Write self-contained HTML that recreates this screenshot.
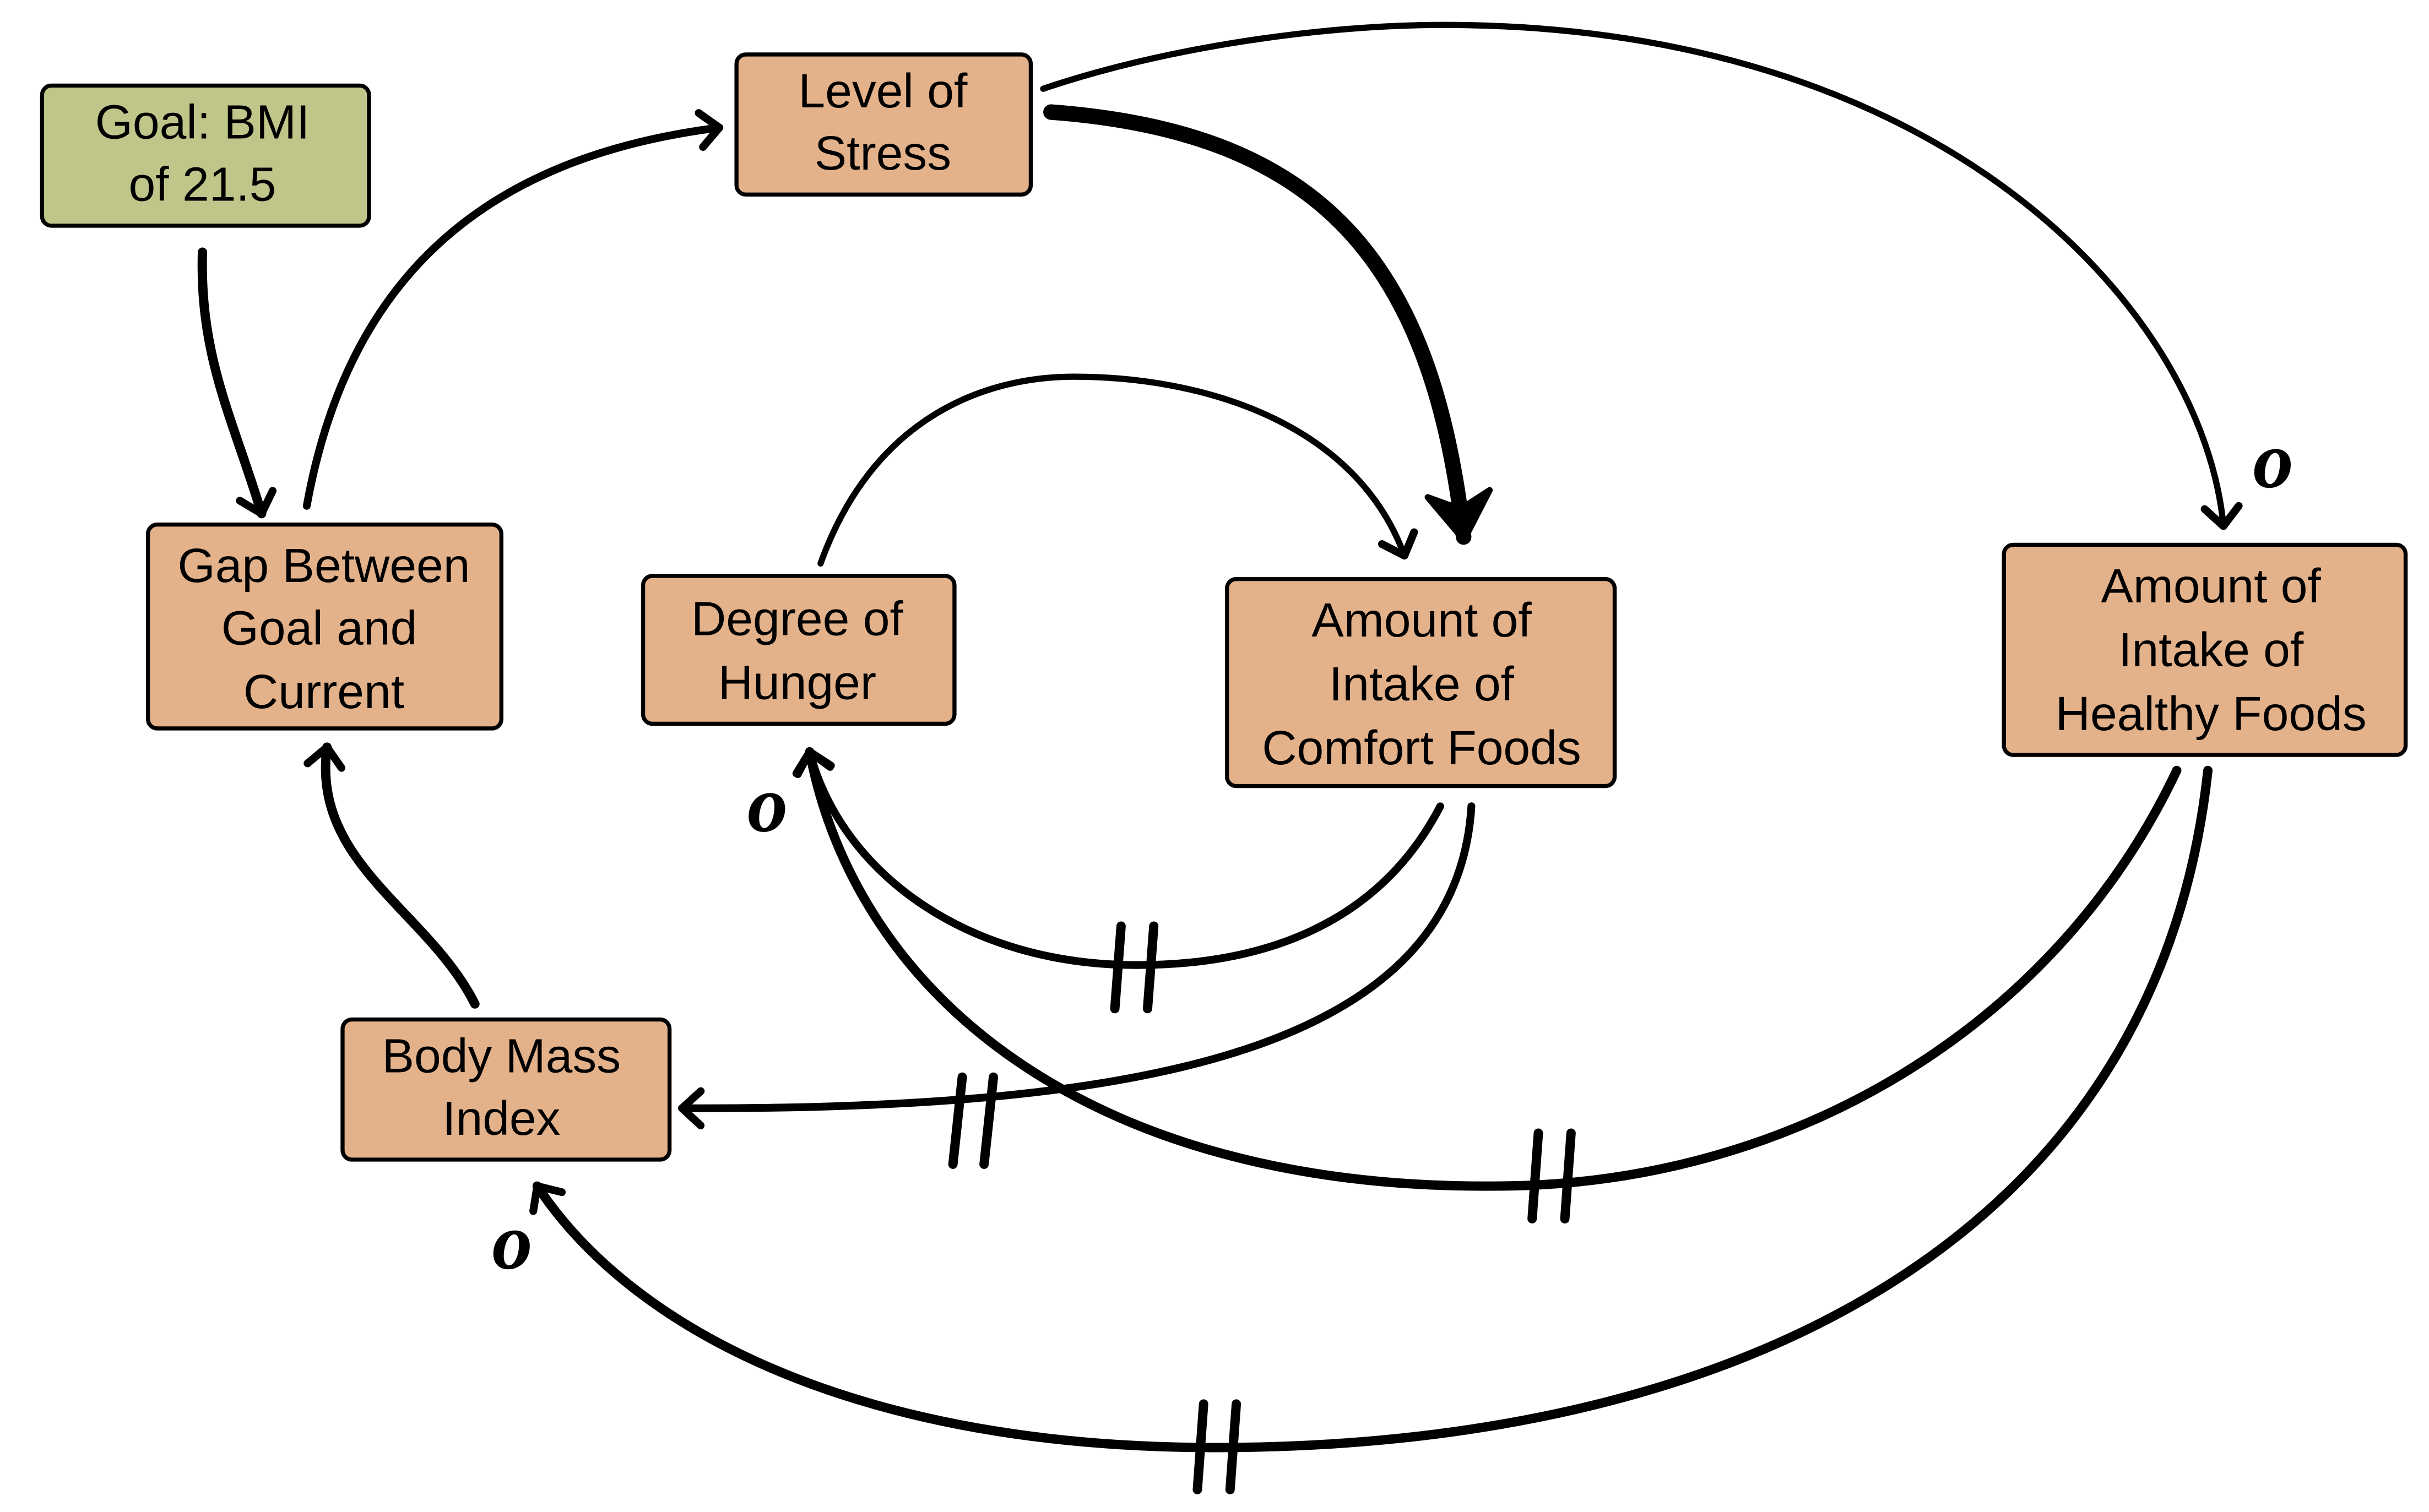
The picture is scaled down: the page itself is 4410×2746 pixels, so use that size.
<!DOCTYPE html>
<html><head><meta charset="utf-8"><style>
html,body{margin:0;padding:0;background:#fff}
svg{display:block}
text{font-family:"Liberation Sans",sans-serif;font-size:31px;fill:#000;text-anchor:middle}
.o{font-family:"Liberation Serif",serif;font-style:italic;font-weight:bold;font-size:52px}
.box{stroke:#000;stroke-width:2.6}
.c{fill:none;stroke:#000;stroke-linecap:round}
</style></head><body>
<svg width="4410" height="2746" viewBox="0 0 1560 971.4" xmlns="http://www.w3.org/2000/svg">
<defs>
<marker id="a" markerUnits="userSpaceOnUse" markerWidth="40" markerHeight="40" refX="20" refY="20" orient="auto" viewBox="0 0 40 40">
<path d="M8,9 L20,20 L8,31" fill="none" stroke="#000" stroke-width="5" stroke-linecap="round" stroke-linejoin="round"/>
</marker>
<marker id="b" markerUnits="userSpaceOnUse" markerWidth="60" markerHeight="60" refX="40" refY="30" orient="auto" viewBox="0 0 60 60">
<path d="M12,10 L42,30 L12,50 L22,30 Z" fill="#000" stroke="#000" stroke-width="4" stroke-linejoin="round"/>
</marker>
</defs>

<rect class="box" x="27" y="55" width="210" height="90" rx="6" fill="#c0c58a"/>
<rect class="box" x="473" y="35" width="189" height="90" rx="6" fill="#e3b28b"/>
<rect class="box" x="95" y="337" width="227" height="131" rx="6" fill="#e3b28b"/>
<rect class="box" x="413" y="370" width="200" height="95" rx="6" fill="#e3b28b"/>
<rect class="box" x="788" y="372" width="249" height="133" rx="6" fill="#e3b28b"/>
<rect class="box" x="1287" y="350" width="258" height="135" rx="6" fill="#e3b28b"/>
<rect class="box" x="220" y="655" width="210" height="90" rx="6" fill="#e3b28b"/>

<text x="130" y="89">Goal: BMI</text><text x="130" y="129">of 21.5</text>
<text x="567" y="69">Level of</text><text x="567" y="109">Stress</text>
<text x="208" y="374">Gap Between</text><text x="205" y="414">Goal and</text><text x="208" y="455">Current</text>
<text x="512" y="408">Degree of</text><text x="512" y="449">Hunger</text>
<text x="913" y="409">Amount of</text><text x="913" y="450">Intake of</text><text x="913" y="491">Comfort Foods</text>
<text x="1420" y="387">Amount of</text><text x="1420" y="428">Intake of</text><text x="1420" y="469">Healthy Foods</text>
<text x="322" y="689">Body Mass</text><text x="322" y="729">Index</text>

<path class="c" d="M130,162 C128,230 150,270 168,330" stroke-width="6" marker-end="url(#a)"/>
<path class="c" d="M197,325 C225,170 320,100 462,82" stroke-width="5" marker-end="url(#a)"/>
<path class="c" d="M675,72 C850,85 920,170 940,345" stroke-width="10" marker-end="url(#b)"/>
<path class="c" d="M670,57 C750,30 850,16 927,16 C1250,16 1415,200 1428,338" stroke-width="4" marker-end="url(#a)"/>
<path class="c" d="M527,362 C560,270 630,242 690,242 C770,242 870,270 902,357" stroke-width="4" marker-end="url(#a)"/>
<path class="c" d="M925,518 C885,595 810,620 730,620 C620,620 540,560 520,483" stroke-width="5" marker-end="url(#a)"/>
<path class="c" d="M945,518 C935,680 720,713 438,712" stroke-width="5" marker-end="url(#a)"/>
<path class="c" d="M1398,495 C1320,660 1150,762 960,762 C700,764 550,640 520,483" stroke-width="6" marker-end="url(#a)"/>
<path class="c" d="M1418,495 C1385,800 1110,930 780,930 C560,930 410,860 345,762" stroke-width="6" marker-end="url(#a)"/>
<path class="c" d="M305,645 C275,585 200,555 210,480" stroke-width="6" marker-end="url(#a)"/>

<g stroke="#000" stroke-width="6" stroke-linecap="round">
<line x1="720" y1="595" x2="716" y2="648"/><line x1="741" y1="595" x2="737" y2="648"/>
<line x1="618" y1="692" x2="612" y2="748"/><line x1="638" y1="692" x2="632" y2="748"/>
<line x1="988" y1="728" x2="984" y2="783"/><line x1="1009" y1="728" x2="1005" y2="783"/>
<line x1="773" y1="902" x2="769" y2="957"/><line x1="794" y1="902" x2="790" y2="957"/>
</g>

<text class="o" x="1460" y="313">o</text>
<text class="o" x="493" y="534">o</text>
<text class="o" x="329" y="815">o</text>
</svg>
</body></html>
